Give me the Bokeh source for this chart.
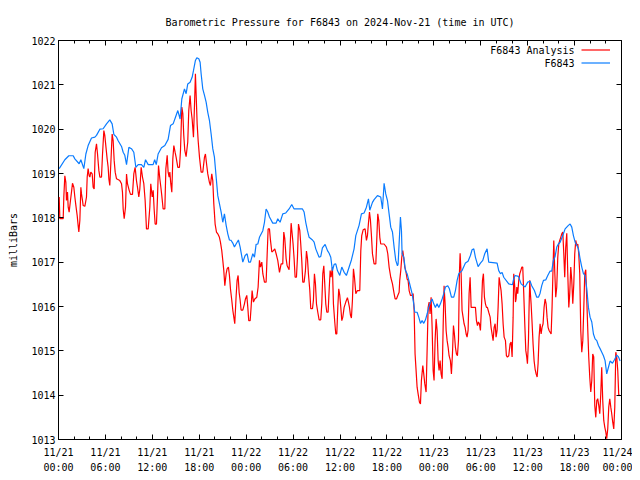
from bokeh.plotting import figure
from bokeh.models import FixedTicker, Range1d, LinearAxis, Label, Legend, LegendItem
from bokeh.embed import file_html
from bokeh.resources import INLINE

TITLE = "Barometric Pressure for F6843 on 2024-Nov-21 (time in UTC)"
Y_LABEL = "milliBars"
SERIES_NAMES = ["F6843 Analysis", "F6843"]

tick_hours = [0, 6, 12, 18, 24, 30, 36, 42, 48, 54, 60, 66, 72]
tick_labels = ["11/21\n00:00", "11/21\n06:00", "11/21\n12:00", "11/21\n18:00",
               "11/22\n00:00", "11/22\n06:00", "11/22\n12:00", "11/22\n18:00",
               "11/23\n00:00", "11/23\n06:00", "11/23\n12:00", "11/23\n18:00",
               "11/24\n00:00"]
y_ticks = [1013, 1014, 1015, 1016, 1017, 1018, 1019, 1020, 1021, 1022]

# hours since 2024-11-21 00:00 UTC
analysis_hours = [
    0.09, 0.17, 0.60, 0.68, 0.81, 0.94, 1.02, 1.15, 1.24, 1.36,
    1.53, 1.66, 1.79, 1.96, 2.09, 2.22, 2.39, 2.51, 2.60, 2.73,
    2.86, 2.94, 3.07, 3.15, 3.37, 3.58, 3.67, 3.79, 3.92, 4.01,
    4.13, 4.31, 4.43, 4.56, 4.69, 4.86, 4.99, 5.16, 5.29, 5.50,
    5.63, 5.80, 5.92, 6.05, 6.22, 6.35, 6.44, 6.56, 6.69, 6.86,
    6.99, 7.12, 7.25, 7.42, 7.84, 8.06, 8.18, 8.27, 8.40, 8.57,
    8.70, 8.82, 9.04, 9.21, 9.46, 9.63, 9.80, 9.97, 10.10, 10.27,
    10.40, 10.57, 10.74, 10.91, 11.08, 11.25, 11.47, 11.68, 11.80, 11.98,
    12.11, 12.23, 12.36, 12.53, 12.66, 12.79, 12.96, 13.09, 13.21, 13.38,
    13.60, 13.73, 13.90, 14.02, 14.15, 14.24, 14.36, 14.49, 14.62, 14.75,
    14.91, 15.04, 15.26, 15.47, 15.60, 15.77, 15.90, 16.02, 16.15, 16.32,
    16.53, 16.66, 16.83, 16.96, 17.09, 17.26, 17.39, 17.51, 17.60, 17.73,
    17.86, 18.03, 18.24, 18.45, 18.67, 18.79, 18.96, 19.09, 19.30, 19.43,
    19.60, 19.73, 19.86, 20.03, 20.20, 20.37, 20.58, 20.71, 20.88, 21.01,
    21.14, 21.27, 21.44, 21.56, 21.73, 21.86, 21.99, 22.16, 22.29, 22.42,
    22.54, 22.72, 22.84, 22.97, 23.10, 23.23, 23.35, 23.57, 23.78, 23.91,
    24.08, 24.21, 24.33, 24.51, 24.63, 24.76, 24.93, 25.10, 25.36, 25.53,
    25.70, 25.83, 26.00, 26.13, 26.34, 26.55, 26.68, 26.81, 26.98, 27.11,
    27.28, 27.49, 27.66, 27.83, 28.04, 28.26, 28.47, 28.68, 28.81, 28.94,
    29.11, 29.24, 29.49, 29.62, 29.75, 29.88, 30.00, 30.13, 30.26, 30.43,
    30.56, 30.69, 30.86, 30.98, 31.11, 31.24, 31.41, 31.58, 31.71, 31.84,
    31.96, 32.14, 32.26, 32.48, 32.60, 32.73, 32.86, 32.99, 33.16, 33.33,
    33.54, 33.67, 33.80, 33.93, 34.05, 34.18, 34.31, 34.48, 34.61, 34.74,
    34.86, 35.03, 35.16, 35.33, 35.46, 35.59, 35.72, 35.84, 35.97, 36.10,
    36.23, 36.36, 36.53, 36.74, 36.95, 37.08, 37.21, 37.34, 37.46, 37.59,
    37.72, 37.85, 38.02, 38.23, 38.53, 38.66, 38.78, 38.96, 39.21, 39.38,
    39.51, 39.64, 39.77, 39.89, 40.02, 40.15, 40.36, 40.58, 40.70, 40.83,
    40.96, 41.09, 41.21, 41.64, 41.94, 42.11, 42.28, 42.49, 42.71, 42.92,
    43.05, 43.22, 43.39, 43.56, 43.64, 43.77, 43.90, 44.03, 44.16, 44.28,
    44.41, 44.58, 44.71, 44.84, 45.01, 45.22, 45.35, 45.48, 45.60, 45.73,
    45.86, 45.99, 46.16, 46.29, 46.41, 46.59, 46.71, 46.84, 47.01, 47.14,
    47.27, 47.40, 47.52, 47.65, 47.78, 47.91, 48.03, 48.16, 48.29, 48.42,
    48.55, 48.67, 48.80, 48.93, 49.06, 49.19, 49.31, 49.44, 49.57, 49.70,
    49.83, 49.95, 50.12, 50.25, 50.38, 50.51, 50.63, 50.76, 50.89, 51.02,
    51.15, 51.27, 51.36, 51.49, 51.61, 51.74, 51.87, 52.00, 52.13, 52.25,
    52.38, 52.51, 52.64, 52.77, 53.11, 53.32, 53.45, 53.58, 53.70, 53.83,
    53.96, 54.09, 54.22, 54.34, 54.47, 54.60, 54.73, 54.85, 55.02, 55.20,
    55.32, 55.45, 55.58, 55.71, 55.84, 55.96, 56.09, 56.22, 56.35, 56.47,
    56.60, 56.73, 56.86, 56.99, 57.16, 57.28, 57.41, 57.58, 57.75, 57.88,
    58.01, 58.14, 58.22, 58.35, 58.44, 58.52, 58.61, 58.73, 58.86, 58.99,
    59.12, 59.25, 59.37, 59.50, 59.63, 59.76, 59.88, 59.97, 60.10, 60.18,
    60.27, 60.35, 60.44, 60.57, 60.69, 60.82, 60.95, 61.08, 61.21, 61.33,
    61.46, 61.59, 61.72, 61.84, 61.97, 62.10, 62.23, 62.36, 62.48, 62.61,
    62.74, 62.87, 63.00, 63.12, 63.25, 63.34, 63.46, 63.59, 63.72, 63.85,
    63.98, 64.10, 64.23, 64.36, 64.49, 64.62, 64.74, 64.87, 65.00, 65.13,
    65.26, 65.38, 65.51, 65.64, 65.77, 65.90, 66.02, 66.15, 66.28, 66.41,
    66.53, 66.66, 66.79, 66.92, 67.05, 67.17, 67.30, 67.43, 67.56, 67.69,
    67.81, 67.94, 68.07, 68.20, 68.32, 68.45, 68.58, 68.71, 68.84, 68.96,
    69.09, 69.22, 69.35, 69.47, 69.60, 69.73, 69.86, 69.99, 70.11, 70.24,
    70.37, 70.50, 70.63, 70.75, 70.88, 71.01, 71.14, 71.27, 71.39, 71.52,
    71.65, 71.80,
]
analysis_mb = [
    1018.47, 1017.98, 1017.98, 1018.47, 1018.95, 1018.80, 1018.39, 1018.58, 1018.24, 1018.13,
    1018.39, 1018.58, 1018.78, 1018.69, 1018.47, 1018.28, 1018.05, 1017.83, 1017.68, 1017.94,
    1018.69, 1018.54, 1018.39, 1018.28, 1018.26, 1018.47, 1018.92, 1019.11, 1018.95, 1018.92,
    1019.03, 1018.99, 1018.69, 1018.65, 1019.48, 1019.67, 1019.44, 1019.07, 1018.92, 1018.92,
    1019.44, 1019.97, 1019.86, 1019.63, 1019.33, 1019.14, 1018.88, 1018.73, 1019.22, 1019.89,
    1019.74, 1019.29, 1019.03, 1018.88, 1018.84, 1018.77, 1018.58, 1018.20, 1017.98, 1018.24,
    1018.99, 1018.77, 1018.62, 1018.53, 1018.53, 1018.99, 1019.14, 1018.84, 1018.69, 1018.47,
    1018.65, 1019.14, 1018.92, 1018.77, 1018.39, 1017.75, 1017.75, 1018.24, 1018.77, 1018.47,
    1018.62, 1018.20, 1017.86, 1017.86, 1018.47, 1019.18, 1018.88, 1018.69, 1018.50, 1018.20,
    1018.20, 1019.11, 1019.41, 1019.03, 1018.92, 1019.03, 1018.77, 1018.58, 1019.33, 1019.63,
    1019.48, 1019.37, 1019.14, 1019.14, 1019.52, 1020.50, 1020.35, 1019.86, 1019.52, 1019.38,
    1019.71, 1020.42, 1020.76, 1020.42, 1020.23, 1019.82, 1020.53, 1021.25, 1020.80, 1020.12,
    1019.74, 1019.37, 1019.03, 1019.03, 1019.37, 1019.44, 1019.18, 1018.99, 1018.80, 1018.73,
    1018.99, 1018.84, 1018.32, 1017.86, 1017.68, 1017.64, 1017.56, 1017.45, 1017.26, 1017.04,
    1016.81, 1016.47, 1016.74, 1016.85, 1016.89, 1016.70, 1016.40, 1016.14, 1015.92, 1015.76,
    1015.61, 1016.25, 1016.59, 1016.70, 1016.32, 1016.14, 1015.92, 1015.92, 1016.06, 1016.17,
    1016.25, 1015.98, 1015.68, 1015.68, 1015.98, 1016.36, 1016.10, 1016.17, 1016.21, 1016.44,
    1017.04, 1016.89, 1017.00, 1016.74, 1016.55, 1016.55, 1017.15, 1017.75, 1017.75, 1017.49,
    1017.23, 1017.26, 1017.30, 1017.19, 1017.04, 1016.77, 1016.96, 1016.96, 1017.68, 1017.53,
    1017.08, 1016.92, 1016.83, 1017.34, 1017.88, 1017.64, 1017.41, 1017.08, 1016.66, 1016.66,
    1017.11, 1017.86, 1017.71, 1017.41, 1017.04, 1016.55, 1016.55, 1016.81, 1017.25, 1017.08,
    1016.74, 1016.36, 1015.95, 1015.95, 1016.14, 1016.74, 1016.51, 1016.06, 1015.87, 1015.70,
    1015.70, 1016.06, 1016.74, 1016.92, 1016.51, 1016.06, 1015.87, 1015.87, 1016.36, 1016.81,
    1016.66, 1016.89, 1016.06, 1015.65, 1015.38, 1015.38, 1015.98, 1016.40, 1016.25, 1015.98,
    1015.68, 1015.76, 1015.98, 1016.10, 1016.20, 1016.10, 1015.98, 1015.80, 1015.74, 1016.14,
    1016.85, 1016.66, 1016.29, 1016.36, 1016.36, 1017.26, 1017.60, 1017.73, 1017.75, 1017.49,
    1017.60, 1017.88, 1018.13, 1017.95, 1017.60, 1017.19, 1016.96, 1016.96, 1017.49, 1018.09,
    1017.94, 1017.56, 1017.41, 1017.41, 1017.34, 1017.19, 1016.89, 1016.66, 1016.51, 1016.29,
    1016.17, 1016.17, 1016.25, 1016.32, 1016.59, 1016.81, 1017.11, 1017.26, 1017.08, 1016.89,
    1016.81, 1016.62, 1016.59, 1016.36, 1016.25, 1016.25, 1016.29, 1015.91, 1014.93, 1014.56,
    1014.18, 1014.03, 1013.84, 1013.80, 1014.33, 1014.67, 1014.48, 1014.26, 1014.07, 1015.01,
    1015.98, 1016.10, 1015.83, 1016.21, 1015.53, 1014.56, 1014.33, 1015.23, 1015.72, 1015.46,
    1014.78, 1014.56, 1014.78, 1014.48, 1014.37, 1015.53, 1016.47, 1016.06, 1015.46, 1015.23,
    1015.08, 1014.89, 1014.78, 1014.48, 1014.93, 1015.57, 1015.38, 1015.08, 1014.93, 1014.89,
    1015.23, 1016.74, 1017.20, 1016.74, 1015.91, 1015.76, 1015.61, 1015.53, 1015.38, 1015.31,
    1015.46, 1016.29, 1016.66, 1015.98, 1015.98, 1015.98, 1015.68, 1015.57, 1015.65, 1015.61,
    1015.46, 1015.98, 1016.59, 1016.74, 1016.21, 1016.06, 1015.98, 1015.98, 1015.87, 1015.76,
    1015.53, 1015.38, 1015.23, 1015.53, 1015.61, 1015.31, 1015.46, 1015.98, 1016.66, 1016.51,
    1016.36, 1016.06, 1015.61, 1015.31, 1015.23, 1014.89, 1014.86, 1014.89, 1015.16, 1015.20,
    1014.86, 1015.76, 1016.74, 1016.44, 1016.10, 1016.17, 1016.44, 1016.29, 1016.59, 1016.74,
    1016.81, 1016.89, 1016.89, 1016.29, 1015.61, 1015.01, 1014.86, 1014.71, 1015.23, 1015.98,
    1016.59, 1016.29, 1016.06, 1015.61, 1015.16, 1014.78, 1014.59, 1014.48, 1014.41, 1014.71,
    1015.31, 1015.61, 1015.38, 1015.53, 1015.61, 1015.98, 1016.17, 1016.06, 1015.76, 1015.53,
    1015.46, 1015.42, 1015.38, 1015.98, 1016.89, 1017.49, 1016.81, 1016.21, 1016.44, 1017.11,
    1017.41, 1017.49, 1017.56, 1017.64, 1017.68, 1017.19, 1016.66, 1017.34, 1017.65, 1016.74,
    1015.98, 1016.29, 1016.89, 1016.59, 1016.06, 1016.51, 1017.19, 1017.49, 1017.38, 1017.41,
    1017.19, 1016.74, 1015.46, 1014.97, 1015.23, 1015.91, 1016.74, 1016.83, 1016.14, 1015.46,
    1014.86, 1014.41, 1014.07, 1014.33, 1014.93, 1014.86, 1013.77, 1013.50, 1013.88, 1013.92,
    1013.77, 1013.58, 1014.03, 1014.63, 1013.88, 1013.43, 1013.28, 1013.17, 1013.02, 1013.24,
    1013.73, 1013.92, 1013.73, 1013.58, 1013.39, 1013.24, 1013.73, 1014.97, 1014.86, 1014.56,
    1013.99, 1014.00,
]

station_hours = [
    0.09, 0.81, 1.32, 1.88, 2.09, 2.64, 2.86, 3.24, 3.50, 3.79,
    4.22, 4.65, 4.86, 5.29, 5.71, 6.14, 6.56, 6.86, 7.08, 7.42,
    7.63, 8.06, 8.27, 8.48, 8.70, 9.00, 9.33, 9.63, 9.89, 10.19,
    10.61, 10.91, 11.13, 11.47, 12.10, 12.30, 12.50, 12.74, 13.17, 13.60,
    14.02, 14.32, 14.66, 14.96, 15.26, 15.55, 15.77, 16.11, 16.32, 16.53,
    16.83, 17.09, 17.26, 17.51, 17.69, 17.94, 18.11, 18.24, 18.45, 18.67,
    18.88, 19.09, 19.30, 19.52, 19.73, 19.94, 20.16, 20.37, 20.58, 20.80,
    21.01, 21.22, 21.44, 21.65, 21.86, 22.08, 22.29, 22.50, 22.71, 23.01,
    23.23, 23.57, 23.87, 24.12, 24.33, 24.55, 24.85, 25.06, 25.27, 25.49,
    25.70, 26.13, 26.34, 26.55, 26.76, 26.98, 27.40, 27.83, 28.04, 28.34,
    28.68, 29.07, 29.49, 29.83, 30.13, 31.20, 31.41, 31.62, 31.84, 32.05,
    32.48, 32.69, 32.90, 33.33, 33.54, 33.75, 34.10, 34.40, 34.61, 34.82,
    35.03, 35.25, 35.46, 35.67, 35.97, 36.23, 36.53, 36.82, 37.17, 37.46,
    37.80, 38.02, 38.44, 38.74, 39.08, 39.38, 39.64, 39.81, 40.15, 40.36,
    40.79, 41.21, 41.43, 41.64, 41.85, 42.07, 42.28, 42.49, 42.71, 42.92,
    43.13, 43.35, 43.43, 43.60, 43.73, 43.86, 43.94, 44.16, 44.37, 44.58,
    44.80, 45.01, 45.22, 45.43, 45.56, 45.86, 46.07, 46.29, 46.50, 46.71,
    46.93, 47.14, 47.35, 47.57, 47.78, 47.99, 48.20, 48.42, 48.63, 48.84,
    49.06, 49.27, 49.48, 49.78, 49.99, 50.25, 50.55, 50.76, 50.98, 51.19,
    51.61, 52.04, 52.38, 52.68, 52.89, 53.11, 53.32, 53.66, 53.96, 54.26,
    54.51, 54.81, 55.02, 56.09, 56.30, 56.52, 56.73, 56.94, 57.58, 58.05,
    58.18, 58.39, 58.82, 59.16, 59.67, 60.01, 60.31, 60.52, 60.86, 61.16,
    61.38, 61.59, 61.80, 62.02, 62.31, 62.57, 62.87, 63.08, 63.29, 63.51,
    63.72, 63.93, 64.15, 64.57, 64.79, 65.21, 65.43, 65.64, 65.85, 66.07,
    66.28, 66.49, 66.70, 66.92, 67.13, 67.34, 67.56, 67.77, 67.98, 68.20,
    68.41, 68.62, 68.84, 69.05, 69.26, 69.48, 69.69, 69.90, 70.11, 70.33,
    70.54, 70.84, 71.10, 71.39, 71.60, 71.82,
]
station_mb = [
    1019.11, 1019.31, 1019.40, 1019.40, 1019.33, 1019.22, 1019.31, 1019.11, 1019.44, 1019.63,
    1019.80, 1019.82, 1019.86, 1020.00, 1020.01, 1020.12, 1020.21, 1020.12, 1019.88, 1019.82,
    1019.74, 1019.61, 1019.48, 1019.41, 1019.20, 1019.59, 1019.56, 1019.48, 1019.14, 1019.20,
    1019.20, 1019.14, 1019.31, 1019.20, 1019.20, 1019.31, 1019.20, 1019.44, 1019.58, 1019.63,
    1019.77, 1020.08, 1020.12, 1020.27, 1020.42, 1020.23, 1020.68, 1020.91, 1020.80, 1021.02,
    1021.06, 1021.17, 1021.32, 1021.55, 1021.61, 1021.59, 1021.51, 1021.25, 1020.91, 1020.76,
    1020.61, 1020.38, 1020.20, 1019.89, 1019.56, 1019.37, 1018.92, 1018.50, 1018.32, 1018.13,
    1017.90, 1018.09, 1017.83, 1017.64, 1017.50, 1017.49, 1017.43, 1017.34, 1017.41, 1017.50,
    1017.34, 1017.00, 1017.15, 1017.19, 1017.00, 1017.00, 1017.19, 1017.11, 1017.40, 1017.41,
    1017.56, 1017.71, 1017.90, 1018.20, 1018.13, 1018.02, 1017.88, 1017.88, 1017.98, 1017.90,
    1018.09, 1018.11, 1018.20, 1018.30, 1018.20, 1018.20, 1018.13, 1017.90, 1017.71, 1017.56,
    1017.50, 1017.45, 1017.30, 1017.11, 1017.13, 1017.32, 1017.40, 1017.26, 1017.20, 1017.11,
    1016.81, 1016.95, 1016.96, 1016.81, 1016.70, 1016.89, 1016.77, 1016.70, 1016.89, 1017.05,
    1017.30, 1017.60, 1017.83, 1018.09, 1018.11, 1018.24, 1018.43, 1018.17, 1018.35, 1018.41,
    1018.50, 1018.47, 1018.20, 1018.78, 1018.54, 1018.39, 1018.09, 1017.79, 1017.68, 1017.34,
    1017.04, 1016.92, 1016.96, 1017.56, 1018.02, 1017.71, 1017.19, 1017.11, 1016.81, 1016.74,
    1016.59, 1016.44, 1016.29, 1016.06, 1015.87, 1015.87, 1015.76, 1015.62, 1015.68, 1015.62,
    1015.70, 1015.83, 1015.98, 1016.10, 1016.17, 1016.06, 1015.98, 1016.06, 1015.98, 1016.06,
    1016.17, 1016.29, 1016.44, 1016.47, 1016.40, 1016.21, 1016.21, 1016.36, 1016.59, 1016.74,
    1016.81, 1016.98, 1017.02, 1017.15, 1017.28, 1017.30, 1017.11, 1016.90, 1016.98, 1017.04,
    1017.19, 1017.30, 1017.00, 1016.98, 1016.81, 1016.74, 1016.77, 1016.66, 1016.51, 1016.49,
    1016.60, 1016.70, 1016.68, 1016.51, 1016.44, 1016.55, 1016.57, 1016.47, 1016.36, 1016.21,
    1016.21, 1016.30, 1016.47, 1016.59, 1016.60, 1016.70, 1016.80, 1016.80, 1017.04, 1017.13,
    1017.34, 1017.41, 1017.45, 1017.64, 1017.75, 1017.83, 1017.86, 1017.79, 1017.60, 1017.45,
    1017.38, 1017.30, 1017.08, 1016.89, 1016.74, 1016.70, 1016.40, 1015.98, 1015.76, 1015.65,
    1015.38, 1015.27, 1015.23, 1015.12, 1015.05, 1014.97, 1014.89, 1014.78, 1014.48, 1014.63,
    1014.77, 1014.72, 1014.80, 1014.90, 1014.87, 1014.77,
]

assert len(analysis_hours) == len(analysis_mb), (len(analysis_hours), len(analysis_mb))
assert len(station_hours) == len(station_mb), (len(station_hours), len(station_mb))

FONT = "DejaVu Sans Mono"
RED = "#ff0000"
BLUE = "#0a7cff"

p = figure(frame_width=563, frame_height=399,
           x_range=Range1d(tick_hours[0], tick_hours[-1]),
           y_range=Range1d(y_ticks[0], y_ticks[-1]),
           output_backend="svg", toolbar_location=None,
           x_axis_location=None, y_axis_location=None,
           min_border_left=58, min_border_right=11,
           min_border_top=40, min_border_bottom=33)
p.xgrid.visible = False
p.ygrid.visible = False
p.outline_line_color = "black"
p.outline_line_width = 1
p.background_fill_color = "white"
p.border_fill_color = "white"

p.title.text = TITLE
p.title.align = "center"
p.title.text_font = FONT
p.title.text_font_size = "10px"
p.title.text_font_style = "normal"
p.title.text_color = "black"
p.title.standoff = 25

xticker = FixedTicker(ticks=tick_hours, minor_ticks=list(range(0, 73, 2)))
yticker = FixedTicker(ticks=y_ticks, minor_ticks=[])


def style_axis(ax, show_labels, standoff=3):
    ax.axis_line_color = None
    ax.major_tick_in = 5
    ax.major_tick_out = 0
    ax.minor_tick_in = 3
    ax.minor_tick_out = 0
    ax.major_tick_line_color = "black"
    ax.minor_tick_line_color = "black"
    ax.major_label_text_font = FONT
    if show_labels:
        ax.major_label_text_font_size = "10px"
        ax.major_label_text_color = "black"
        ax.major_label_standoff = standoff
    else:
        ax.major_label_text_font_size = "1px"
        ax.major_label_text_color = None
        ax.major_label_standoff = 0


xb = LinearAxis(ticker=xticker,
                major_label_overrides={h: lbl for h, lbl in zip(tick_hours, tick_labels)})
style_axis(xb, True, standoff=7)
xb.major_label_text_line_height = 1.4
xt = LinearAxis(ticker=xticker)
style_axis(xt, False)
yl = LinearAxis(ticker=yticker, axis_label=Y_LABEL)
style_axis(yl, True, standoff=3)
yl.axis_label_text_font = FONT
yl.axis_label_text_font_size = "10px"
yl.axis_label_text_font_style = "normal"
yl.axis_label_text_color = "black"
yl.axis_label_standoff = 9
yr = LinearAxis(ticker=yticker)
style_axis(yr, False)

p.add_layout(xb, "below")
p.add_layout(xt, "above")
p.add_layout(yl, "left")
p.add_layout(yr, "right")

r1 = p.line(analysis_hours, analysis_mb, line_color=RED, line_width=1.2)
r2 = p.line(station_hours, station_mb, line_color=BLUE, line_width=1.2)

legend = Legend(items=[LegendItem(label=" ", renderers=[r1]),
                       LegendItem(label=" ", renderers=[r2])],
                location=(523, 370), orientation="vertical",
                glyph_width=29, glyph_height=13, label_height=13,
                label_width=0, label_standoff=0, spacing=0, padding=0, margin=0,
                label_text_font_size="1px",
                border_line_alpha=0, background_fill_alpha=0)
p.add_layout(legend)

for name, ymb in zip(SERIES_NAMES, [1021.77, 1021.48]):
    p.add_layout(Label(x=66.0, y=ymb, text=name, text_align="right",
                       text_baseline="middle", text_font=FONT,
                       text_font_size="10px", text_color="black"))

open("out.html", "w").write(file_html(p, INLINE))
